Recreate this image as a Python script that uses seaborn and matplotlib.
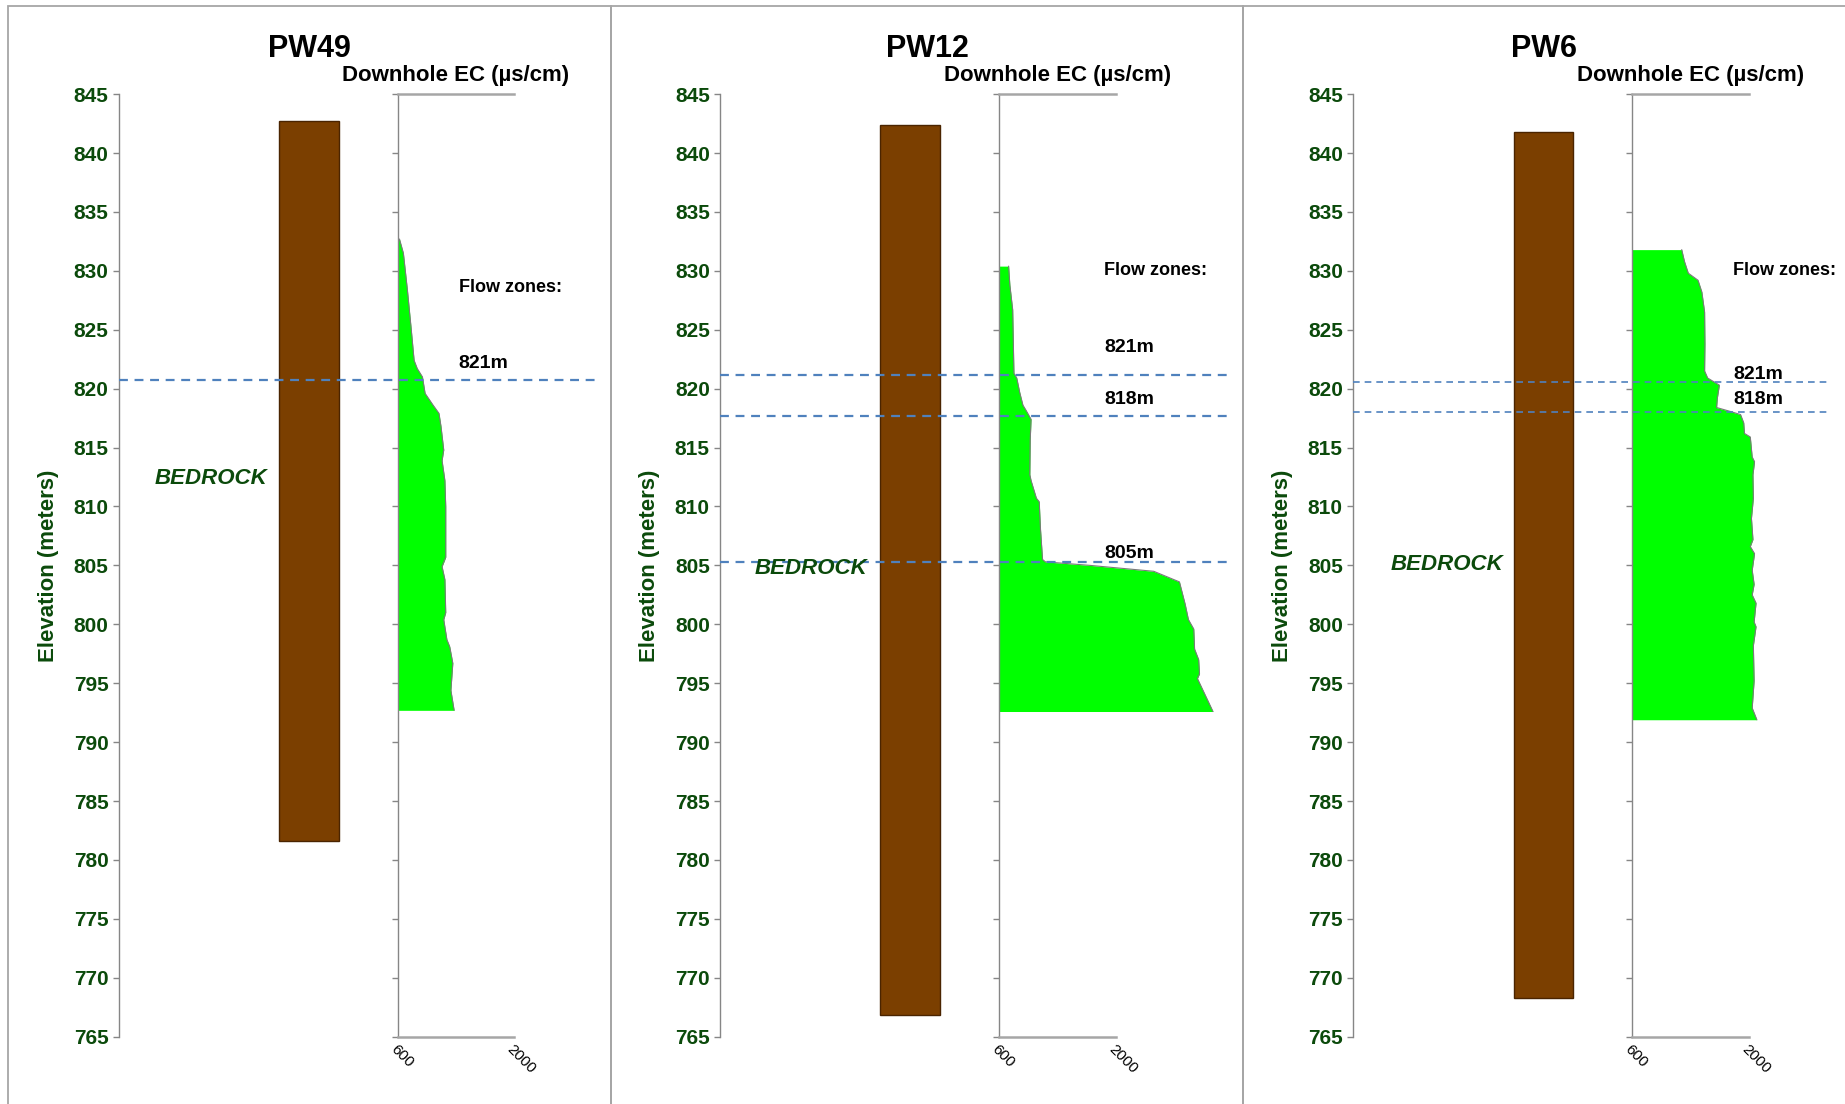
import numpy as np
import pandas as pd
import matplotlib
matplotlib.use("Agg")
import matplotlib.pyplot as plt
import seaborn as sns
from matplotlib.patches import Rectangle
from matplotlib import transforms

# ---------------- data ----------------
wells = ["PW49", "PW12", "PW6"]
casing_top = [842.7, 842.4, 841.8]
casing_bottom = [781.6, 766.8, 768.3]

flow_zone_elev = [[820.7], [821.2, 817.7, 805.3], [820.6, 818.0]]
flow_zone_labels = [["821m"], ["821m", "818m", "805m"], ["821m", "818m"]]

pw49_elev = [832.7, 831.5, 828.4, 825.0, 822.4, 821.7, 821.0, 819.6, 818.6, 817.9,
             816.8, 814.8, 813.9, 812.2, 810.0, 805.7, 804.9, 803.8, 801.0, 800.4,
             798.7, 798.1, 796.7, 794.4, 792.7]
pw49_ec = [620, 667, 715, 762, 796, 834, 896, 928, 1024, 1095,
           1119, 1152, 1132, 1166, 1176, 1176, 1132, 1166, 1176, 1152,
           1190, 1224, 1261, 1238, 1277]

pw12_elev = [830.4, 828.8, 826.7, 821.3, 820.9, 819.7, 818.6, 818.2, 817.4, 815.7,
             812.7, 812.2, 810.7, 810.4, 808.1, 805.5, 805.3, 805.0, 804.5, 803.6,
             801.7, 800.4, 799.6, 797.9, 797.0, 795.8, 795.4, 792.6]
pw12_ec = [713, 728, 762, 777, 811, 846, 885, 919, 983, 973,
           968, 983, 1047, 1081, 1096, 1121, 1155, 1695, 2457, 2766,
           2835, 2874, 2938, 2948, 2997, 3007, 2982, 3169]

pw6_elev = [831.8, 830.8, 829.8, 829.2, 828.2, 826.5, 823.8, 821.5, 820.9, 820.3,
            819.2, 818.4, 818.1, 817.8, 817.1, 816.2, 815.9, 814.2, 813.8, 812.7,
            810.7, 809.0, 807.2, 806.6, 806.0, 804.6, 803.4, 802.5, 801.8, 800.2,
            799.8, 798.2, 795.2, 792.9, 791.9]
pw6_ec = [1195, 1228, 1274, 1391, 1437, 1470, 1474, 1470, 1507, 1647,
          1623, 1614, 1763, 1902, 1940, 1949, 2019, 2042, 2070, 2051,
          2056, 2033, 2051, 2019, 2070, 2042, 2065, 2042, 2088, 2065,
          2088, 2056, 2065, 2042, 2098]

ec_elev = [pw49_elev, pw12_elev, pw6_elev]
ec_vals = [pw49_ec, pw12_ec, pw6_ec]

y_ticks = list(range(765, 850, 5))
ec_ticks = [600, 2000]

# ---------------- layout (pixels) ----------------
W, H = 1845, 1104
panel_x = [(8, 611), (611, 1243), (1243, 1852)]
spine_x = [118.8, 720.2, 1353.2]
dash_end = [600, 1233, 1830]
dash_lw = [1.6, 1.6, 1.2]
bar_off = [(160, 60), (160, 60), (161, 59)]
ec_off, ec_w = 279.0, 116.5
y_top, y_bot = 94.1, 1036.7
flow_title_x = [61, 105, 101]
flow_title_y = [828.6, 830.0, 830.0]
flow_label_y = [[822.1], [823.5, 819.1, 806.0], [821.2, 819.1]]
bedrock_pos = [(210.6, 812.4), (811.3, 804.7), (1446.7, 805.1)]
title_cx = [309.5, 927.0, 1544.0]

GREEN_TXT = "#0b4a0b"
SPINE = "#868686"

sns.set_theme(style="white")
plt.rcParams["font.family"] = ["Liberation Sans", "DejaVu Sans"]

fig = plt.figure(figsize=(W / 100, H / 100), dpi=100)
fig.patch.set_facecolor("white")


def fx(px):
    return px / W


def fy(py):
    return 1 - py / H


for i, well in enumerate(wells):
    # panel frame
    x0, x1 = panel_x[i]
    fig.patches.append(Rectangle((fx(x0), fy(1110)), fx(x1 - x0), (1110 - 6) / H,
                                 transform=fig.transFigure, fill=False,
                                 edgecolor="#a6a6a6", lw=1.3))
    fig.text(fx(title_cx[i]), fy(49.0), well, ha="center", va="center",
             fontsize=22, fontweight="bold", color="black")

    sx = spine_x[i]
    bottom = fy(y_bot)
    height = (y_bot - y_top) / H

    # EC axes (drawn first)
    ax2 = fig.add_axes([fx(sx + ec_off), bottom, fx(ec_w), height])
    ax2.set_facecolor("none")
    ax2.set_xlim(600, 2000)
    ax2.set_ylim(765, 845)
    df = pd.DataFrame({"elev": ec_elev[i], "ec": ec_vals[i]})
    ax2.fill_betweenx(df["elev"], 600, df["ec"], color="#00ff00", lw=0,
                      clip_on=False, zorder=2)
    sns.lineplot(data=df, x="ec", y="elev", orient="y", sort=False, estimator=None,
                 ax=ax2, color="#7a7a7a", lw=0.8, zorder=3)
    for ln in ax2.lines:
        ln.set_clip_on(False)
    ax2.set_xlabel("")
    ax2.set_ylabel("")
    ax2.set_yticks(y_ticks)
    ax2.set_yticklabels([])
    ax2.set_xticks(ec_ticks)
    ax2.set_xticklabels([str(t) for t in ec_ticks], rotation=-45, ha="left",
                        va="top", rotation_mode="anchor", fontsize=11)
    ax2.tick_params(axis="y", direction="out", length=4.5, width=1, color=SPINE, left=True)
    ax2.tick_params(axis="x", length=0, pad=4, labelcolor="black")
    ax2.spines["right"].set_visible(False)
    ax2.spines["left"].set_color(SPINE)
    ax2.spines["left"].set_linewidth(1.0)
    for s in ("top", "bottom"):
        ax2.spines[s].set_color("#a6a6a6")
        ax2.spines[s].set_linewidth(1.8)
    ax2.grid(False)
    fig.text(fx(sx + ec_off + ec_w / 2), fy(76.0), "Downhole EC (\u00b5s/cm)",
             ha="center", va="center", fontsize=16, fontweight="bold", color="black")

    # main elevation axes
    width_px = dash_end[i] - sx
    ax = fig.add_axes([fx(sx), bottom, fx(width_px), height])
    ax.set_facecolor("none")
    ax.set_xlim(0, width_px)
    ax.set_ylim(765, 845)
    bo, bw = bar_off[i]
    ax.bar(bo + bw / 2, casing_top[i] - casing_bottom[i], width=bw,
           bottom=casing_bottom[i], color="#7b3f00", edgecolor="#4a2400", lw=1.0, zorder=2)
    for z in flow_zone_elev[i]:
        ax.axhline(z, color="#4f81bd", lw=dash_lw[i], dashes=(4, 3), zorder=4)
    ax.set_xticks([])
    ax.set_yticks(y_ticks)
    ax.set_yticklabels([str(t) for t in y_ticks], fontsize=15, fontweight="bold",
                       color=GREEN_TXT)
    ax.tick_params(axis="y", direction="out", length=4.5, width=1, color=SPINE,
                   pad=3, left=True)
    for s in ("top", "right", "bottom"):
        ax.spines[s].set_visible(False)
    ax.spines["left"].set_color(SPINE)
    ax.spines["left"].set_linewidth(1.0)
    ax.grid(False)
    ax.set_ylabel("Elevation (meters)", fontsize=16, fontweight="bold", color=GREEN_TXT)
    ax.yaxis.set_label_coords(-60 / width_px, 0.5)

    trans = transforms.blended_transform_factory(fig.transFigure, ax.transData)
    fig.text(fx(sx + ec_off + flow_title_x[i]), flow_title_y[i], "Flow zones:",
             transform=trans, ha="left", va="center", fontsize=13, fontweight="bold",
             color="black")
    for lab, ly in zip(flow_zone_labels[i], flow_label_y[i]):
        fig.text(fx(sx + ec_off + flow_title_x[i]), ly, lab, transform=trans,
                 ha="left", va="center", fontsize=14, fontweight="bold",
                 color="black")
    bx, by = bedrock_pos[i]
    fig.text(fx(bx), by, "BEDROCK", transform=trans, ha="center", va="center",
             fontsize=16, fontstyle="italic", fontweight="bold", color=GREEN_TXT)

fig.savefig("out.png", dpi=100, facecolor="white")
